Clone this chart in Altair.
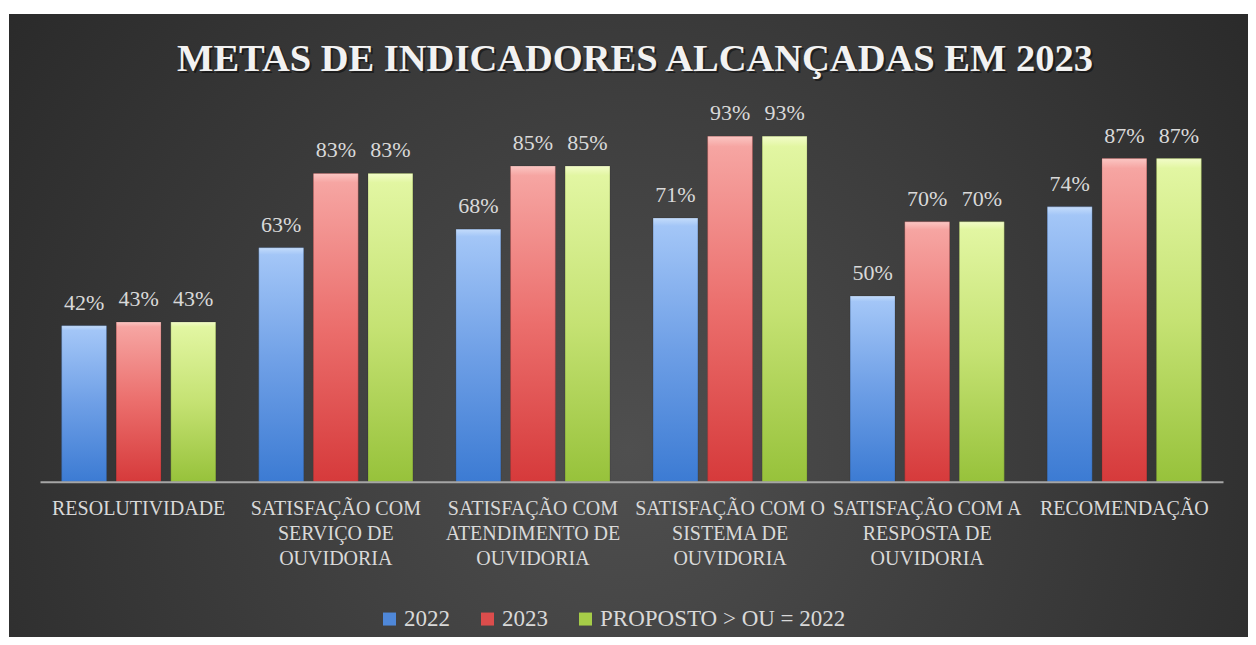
import json
import altair as alt
import pandas as pd

# ---------------- data ----------------
categories = [
    "RESOLUTIVIDADE",
    "SATISFAÇÃO COM SERVIÇO DE OUVIDORIA",
    "SATISFAÇÃO COM ATENDIMENTO DE OUVIDORIA",
    "SATISFAÇÃO COM O SISTEMA DE OUVIDORIA",
    "SATISFAÇÃO COM A RESPOSTA DE OUVIDORIA",
    "RECOMENDAÇÃO",
]
category_lines = [
    ["RESOLUTIVIDADE"],
    ["SATISFAÇÃO COM", "SERVIÇO DE", "OUVIDORIA"],
    ["SATISFAÇÃO COM", "ATENDIMENTO DE", "OUVIDORIA"],
    ["SATISFAÇÃO COM O", "SISTEMA DE", "OUVIDORIA"],
    ["SATISFAÇÃO COM A", "RESPOSTA DE", "OUVIDORIA"],
    ["RECOMENDAÇÃO"],
]
series = ["2022", "2023", "PROPOSTO > OU = 2022"]
values_2022 = [42, 63, 68, 71, 50, 74]
values_2023 = [43, 83, 85, 93, 70, 87]
values_proposto = [43, 83, 85, 93, 70, 87]
title_text = "METAS DE INDICADORES ALCANÇADAS EM 2023"

rows = []
for s, vals in zip(series, [values_2022, values_2023, values_proposto]):
    for c, v in zip(categories, vals):
        rows.append({"categoria": c, "serie": s, "valor": v, "rotulo": f"{v}%"})
df = pd.DataFrame(rows)

# ---------------- styling ----------------
W, H = 1183, 371.4
PAD = {"left": 32, "top": 102.3, "right": 25, "bottom": 155.3}
FONT = "Liberation Serif"
TXT = "#d9d9d9"

def vgrad(stops):
    return {"gradient": "linear", "x1": 0, "y1": 0, "x2": 0, "y2": 1,
            "stops": [{"offset": o, "color": c} for o, c in stops]}

grads = {
    "2022": vgrad([(0, "#c4dcfb"), (0.03, "#a3c6f7"), (0.5, "#6e9fe6"), (1, "#3c7bd3")]),
    "2023": vgrad([(0, "#fbc6c3"), (0.03, "#f6a5a2"), (0.5, "#eb6e6c"), (1, "#d63a3b")]),
    "PROPOSTO > OU = 2022": vgrad([(0, "#f2fcc8"), (0.03, "#e2f6a2"), (0.5, "#c5e273"), (1, "#97c23b")]),
}
legend_colors = ["#4f88d9", "#dc4d4c", "#a6cd48"]

bg_grad = {"gradient": "radial", "x1": 0.5, "y1": 0.6, "r1": 0,
           "x2": 0.5, "y2": 0.6, "r2": 0.72,
           "stops": [{"offset": 0, "color": "#4f4f4f"},
                     {"offset": 1, "color": "#242424"}]}

label_expr = ""
for c, lines in zip(categories, category_lines):
    label_expr += f"datum.value === {json.dumps(c)} ? {json.dumps(lines)} : "
label_expr += "datum.value"

x_enc = alt.X(
    "categoria:N", sort=categories,
    scale=alt.Scale(paddingInner=0.219, paddingOuter=0.11),
    axis=alt.Axis(title=None, domainColor="#a6a6a6", domainWidth=2, ticks=False,
                  labelColor=TXT, labelFont=FONT, labelFontSize=20, labelAngle=0,
                  labelPadding=17, labelLineHeight=25, labelBaseline="top",
                  labelExpr=label_expr, labelLimit=400, labelOverlap=False,
                  labelBound=False, zindex=2),
)
xo_enc = alt.XOffset("serie:N", sort=series,
                     scale=alt.Scale(domain=series, paddingInner=0.18, paddingOuter=0))
y_enc = alt.Y("valor:Q", scale=alt.Scale(domain=[0, 100]), axis=None)

background = alt.Chart(pd.DataFrame({"a": [0]})).mark_rect(fill=bg_grad).encode(
    x=alt.value(-31), x2=alt.value(1208), y=alt.value(-96.3), y2=alt.value(526.7)
)

legend_bars = alt.Chart(df).mark_bar().encode(
    x=x_enc, xOffset=xo_enc, y=y_enc,
    color=alt.Color("serie:N", sort=series,
                    scale=alt.Scale(domain=series, range=legend_colors),
                    legend=alt.Legend(orient="none", legendX=338, legendY=497,
                                      direction="horizontal", title=None,
                                      symbolType="square", symbolSize=169,
                                      symbolStrokeWidth=0, labelFont=FONT,
                                      labelFontSize=23, labelColor=TXT,
                                      labelLimit=400, columnPadding=26,
                                      labelOffset=3, padding=0, zindex=2)),
)

grad_layers = [
    alt.Chart(df).transform_filter(alt.datum.serie == s)
    .mark_bar(fill=grads[s], stroke="#000000", strokeOpacity=0.15, strokeWidth=1)
    .encode(x=x_enc, xOffset=xo_enc, y=y_enc)
    for s in series
]

labels = alt.Chart(df).mark_text(
    font=FONT, fontSize=22, color=TXT, baseline="alphabetic", dy=-16
).encode(x=x_enc, xOffset=xo_enc, y=y_enc, text="rotulo:N")

tdf = pd.DataFrame({"t": [title_text]})
title_shadow = alt.Chart(tdf).mark_text(
    font=FONT, fontWeight="bold", fontSize=38.5, color="#000000", opacity=0.45,
    align="center", baseline="alphabetic"
).encode(x=alt.value(597), y=alt.value(-37.3), text="t:N")
title = alt.Chart(tdf).mark_text(
    font=FONT, fontWeight="bold", fontSize=38.5, color="#f2f2f2",
    align="center", baseline="alphabetic"
).encode(x=alt.value(595), y=alt.value(-39.3), text="t:N")

chart = alt.layer(
    background, legend_bars, *grad_layers, labels, title_shadow, title
).properties(
    width=W, height=H, padding=PAD, autosize=alt.AutoSizeParams(type="none"),
    background="white",
).configure_view(stroke=None)

chart.save("out.html", embed_options={"renderer": "svg", "actions": False})
